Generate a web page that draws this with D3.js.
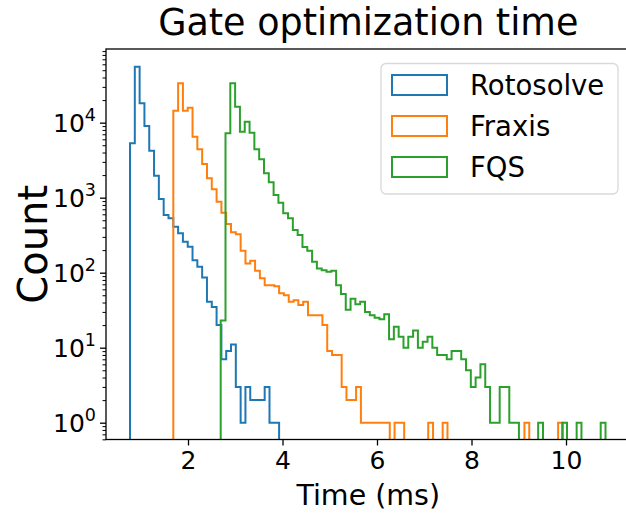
<!DOCTYPE html>
<html>
<head>
<meta charset="utf-8">
<script src="https://cdn.jsdelivr.net/npm/d3@7"></script>
<style>
  body { margin: 0; background: #fff; }
  text { font-family: "DejaVu Sans", sans-serif; fill: #000; }
</style>
</head>
<body>
<div id="chart"></div>
<script>
// histogram data, counts per bin
var binWidth = 0.1018; // ms

var seriesNames = ["Rotosolve", "Fraxis", "FQS"];
var seriesColors = ["#1f77b4", "#ff7f0e", "#2ca02c"];
var seriesStarts = [0.7725, 1.689, 2.692]; // left edge of first bin, ms

var rotosolveCounts = [5300, 55800, 18150, 9040, 4230, 1965, 961, 588, 531, 410,
  335, 259, 222, 147, 120, 86, 41, 35, 20, 7,
  9, 11, 3, 1, 3, 2, 2, 2, 3, 1, 1];

var fraxisCounts = [14450, 33500, 14450, 15850, 6500, 4420, 2810, 1815, 1294, 885,
  631, 446, 346, 325, 196, 133, 144, 106, 84, 68,
  68, 66, 53, 50, 41, 43, 37, 41, 27, 27,
  27, 20, 9, 8, 8, 3, 2, 2, 3, 1,
  1, 1, 1, 1, 1, 0, 1, 1, 0, 0,
  0, 0, 0, 1, 0, 0, 1, 0, 0, 0,
  0, 0, 0, 0, 0, 0, 0, 0, 0, 0,
  0, 0, 0, 1, 0, 0, 0, 0, 0, 0, 1];

var fqsCounts = [23, 7230, 33500, 16340, 7590, 10300, 7360, 4420, 3250, 2115,
  1600, 1087, 857, 620, 531, 371, 318, 220, 196, 140,
  114, 108, 103, 106, 68, 52, 32, 45, 38, 41,
  30, 27, 25, 24, 28, 13, 19, 14, 10, 14,
  17, 10, 12, 14, 10, 8, 8, 7, 9, 9,
  7, 5, 3, 4, 6, 3, 1, 1, 3, 3,
  1, 1, 0, 0, 0, 0, 1, 0, 0, 0,
  0, 1, 0, 0, 1, 0, 0, 0, 0, 1];

var allCounts = [rotosolveCounts, fraxisCounts, fqsCounts];

var xTicks = [2, 4, 6, 8, 10];
var yTicks = [1, 10, 100, 1000, 10000];

// layout
var svgWidth = 626, svgHeight = 514;
var plot = { left: 106, right: 630.5, top: 49, bottom: 439.5 };

var svg = d3.select("#chart")
  .append("svg")
  .attr("width", svgWidth)
  .attr("height", svgHeight);

var xScale = d3.scaleLinear()
  .domain([0.2646, 11.365])
  .range([plot.left, plot.right]);

var yScale = d3.scaleLog()
  .domain([Math.pow(10, -0.224), Math.pow(10, 4.982)])
  .range([plot.bottom, plot.top]);

svg.append("clipPath")
  .attr("id", "plotClip")
  .append("rect")
  .attr("x", plot.left)
  .attr("y", plot.top)
  .attr("width", plot.right - plot.left)
  .attr("height", plot.bottom - plot.top);

// step outline of a histogram, dropping to below the axis for empty bins
function stepPath(start, counts) {
  var low = plot.bottom + 10;
  var pts = [[xScale(start), low]];
  counts.forEach(function(c, i) {
    var y = c > 0 ? yScale(c) : low;
    pts.push([xScale(start + i * binWidth), y]);
    pts.push([xScale(start + (i + 1) * binWidth), y]);
  });
  pts.push([xScale(start + counts.length * binWidth), low]);
  return d3.line()(pts);
}

var lines = svg.append("g").attr("clip-path", "url(#plotClip)");
allCounts.forEach(function(counts, s) {
  lines.append("path")
    .attr("d", stepPath(seriesStarts[s], counts))
    .attr("fill", "none")
    .attr("stroke", seriesColors[s])
    .attr("stroke-width", 2)
    .attr("stroke-linejoin", "miter");
});

// x axis
var xAxis = svg.append("g")
  .attr("transform", "translate(0," + plot.bottom + ")")
  .call(d3.axisBottom(xScale).tickValues(xTicks).tickSize(6).tickPadding(6));
xAxis.select(".domain").remove();
xAxis.selectAll("line").attr("stroke", "#000").attr("stroke-width", 1.3);
xAxis.selectAll("text")
  .attr("font-size", 25)
  .attr("font-family", "DejaVu Sans")
  .attr("fill", "#000");

// y axis, minor ticks first
var minorTicks = [];
for (var e = -1; e <= 4; e++) {
  for (var m = 2; m <= 9; m++) {
    var v = m * Math.pow(10, e);
    if (v > yScale.domain()[0] && v < yScale.domain()[1]) minorTicks.push(v);
  }
}
var yMinor = svg.append("g")
  .attr("transform", "translate(" + plot.left + ",0)")
  .call(d3.axisLeft(yScale).tickValues(minorTicks).tickSize(3.5).tickFormat(""));
yMinor.select(".domain").remove();
yMinor.selectAll("line").attr("stroke", "#000").attr("stroke-width", 1);

var yAxis = svg.append("g")
  .attr("transform", "translate(" + plot.left + ",0)")
  .call(d3.axisLeft(yScale).tickValues(yTicks).tickSize(6).tickFormat(""));
yAxis.select(".domain").remove();
yAxis.selectAll("line").attr("stroke", "#000").attr("stroke-width", 1.3);

// 10^n labels with superscripts
var yLabels = svg.append("g");
yTicks.forEach(function(t) {
  var lab = yLabels.append("text")
    .attr("x", plot.left - 10)
    .attr("y", yScale(t) + 9)
    .attr("text-anchor", "end")
    .attr("font-size", 25);
  lab.append("tspan").text("10");
  lab.append("tspan")
    .attr("dy", -10.5)
    .attr("font-size", 17.5)
    .text(String(Math.round(Math.log10(t))));
});

// spines (right one falls outside the picture)
svg.append("rect")
  .attr("x", plot.left)
  .attr("y", plot.top)
  .attr("width", plot.right - plot.left)
  .attr("height", plot.bottom - plot.top)
  .attr("fill", "none")
  .attr("stroke", "#000")
  .attr("stroke-width", 1.3);

// titles
svg.append("text")
  .attr("x", (plot.left + plot.right) / 2)
  .attr("y", 35)
  .attr("text-anchor", "middle")
  .attr("font-size", 36.5)
  .text("Gate optimization time");

svg.append("text")
  .attr("x", (plot.left + plot.right) / 2)
  .attr("y", 505)
  .attr("text-anchor", "middle")
  .attr("font-size", 28.5)
  .text("Time (ms)");

svg.append("text")
  .attr("transform", "translate(47," + (plot.top + plot.bottom) / 2 + ") rotate(-90)")
  .attr("text-anchor", "middle")
  .attr("font-size", 40)
  .text("Count");

// legend
var legend = svg.append("g").attr("transform", "translate(381,63.5)");
legend.append("rect")
  .attr("width", 237)
  .attr("height", 130.5)
  .attr("rx", 5)
  .attr("fill", "#fff")
  .attr("fill-opacity", 0.8)
  .attr("stroke", "#d9d9d9")
  .attr("stroke-width", 1.3);

seriesNames.forEach(function(name, i) {
  var row = legend.append("g").attr("transform", "translate(0," + (21.5 + i * 41) + ")");
  row.append("rect")
    .attr("x", 11)
    .attr("y", -10)
    .attr("width", 55)
    .attr("height", 20)
    .attr("fill", "none")
    .attr("stroke", seriesColors[i])
    .attr("stroke-width", 2);
  row.append("text")
    .attr("x", 89)
    .attr("y", 10)
    .attr("font-size", 27.5)
    .text(name);
});
</script>
</body>
</html>
